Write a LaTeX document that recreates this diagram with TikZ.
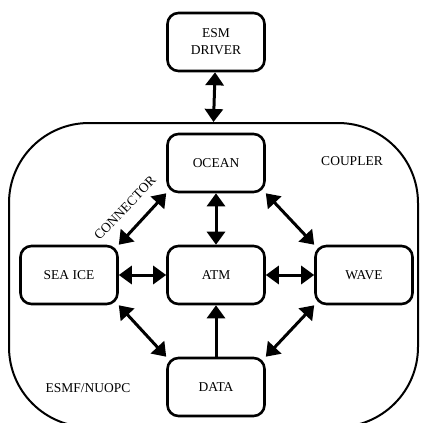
\documentclass[tikz,border=0pt]{standalone}
\usepackage{fontspec}
\setmainfont{Liberation Serif}
\usetikzlibrary{arrows.meta}

\begin{document}
\begin{tikzpicture}[
    x=1pt, y=-1pt,
    >={Triangle[length=13pt,width=18pt]},
    comp/.style={
        draw,
        line width=2.6pt,
        rounded corners=11pt,
        minimum width=97pt,
        minimum height=58pt,
        align=center,
        font=\fontsize{13.5}{17}\selectfont
    },
    link/.style={<->, line width=3pt},
    tag/.style={font=\fontsize{13.5}{15}\selectfont}
]

    \clip (0,0) rectangle (422,423);

    % Acoblador
    \node[
        draw,
        line width=2pt,
        rounded corners=80pt,
        minimum width=409pt,
        minimum height=304pt
    ] (coupler) at (213.5,275) {};

    % Components
    \node[comp] (esm) at (216,42) {ESM\\DRIVER};
    \node[comp] (ocean) at (216,163) {OCEAN};
    \node[comp] (seaice) at (69,275) {SEA ICE};
    \node[comp] (atm) at (216,275) {ATM};
    \node[comp] (wave) at (364,275) {WAVE};
    \node[comp] (data) at (216,387) {DATA};

    % Etiquetes
    \node[tag] (cplname) at (352,161) {COUPLER};
    \node[tag, rotate=46] (conname) at (125,208) {CONNECTOR};
    \node[tag] (nuopc) at (88,388) {ESMF/NUOPC};

    % Connexions
    \draw[link] (esm) -- (coupler.north);
    \draw[link] (ocean) -- (atm);
    \draw[link] (seaice) -- (atm);
    \draw[link] (atm) -- (wave);
    \draw[link] (seaice.north east) -- (ocean.south west);
    \draw[link] (ocean.south east) -- (wave.north west);
    \draw[link] (seaice.south east) -- (data.north west);
    \draw[link] (wave.south west) -- (data.north east);
    \draw[->, line width=3pt] (data) -- (atm);

\end{tikzpicture}
\end{document}
